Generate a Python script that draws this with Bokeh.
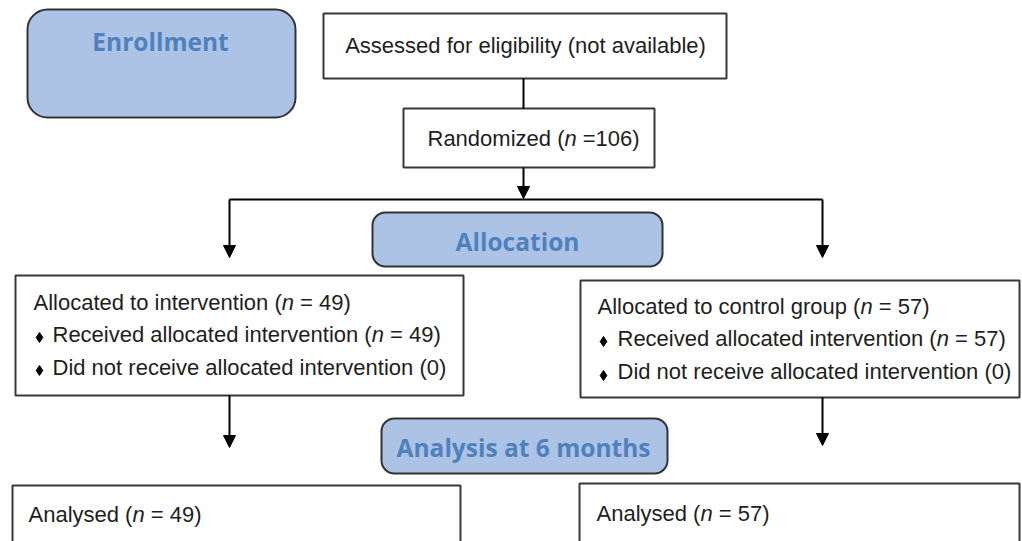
from bokeh.plotting import figure
from bokeh.models import Range1d, Arrow, NormalHead, ColumnDataSource
from bokeh.core.properties import value
from bokeh.embed import file_html
from bokeh.resources import INLINE

# ---------------- data ----------------
stage_labels = ["Enrollment", "Allocation", "Analysis at 6 months"]
assessed_label = "Assessed for eligibility (not available)"
randomized_n = 106
arm_names = ["intervention", "control group"]
arm_allocated_n = [49, 57]
arm_received_n = [49, 57]
arm_not_received_n = [0, 0]
arm_analysed_n = [49, 57]

# ---------------- styling / layout (image pixels, y downward) ----------------
BODY_FONT = "Liberation Sans"
HEAD_FONT = "Open Sans"
FS = 22
TEXT_COLOR = "#1e1e1e"
HEAD_COLOR = "#4f81bd"
STAGE_FILL = "#adc3e6"
BOX_LINE = "#383838"
NBSP = "\u00a0"

# Arial / Liberation Sans advance widths (1/1000 em)
W = {' ': 278, NBSP: 278, '(': 333, ')': 333, '=': 584, 'A': 667, 'R': 722, 'D': 722,
     'a': 556, 'b': 556, 'c': 500, 'd': 556, 'e': 556, 'f': 278, 'g': 556,
     'h': 556, 'i': 222, 'l': 222, 'm': 833, 'n': 556, 'o': 556, 'p': 556,
     'r': 333, 's': 500, 't': 278, 'u': 556, 'v': 500, 'y': 500, 'z': 500}


def tw(s):
    return sum(W.get(c, 556) for c in s) * FS / 1000.0


runs = dict(x=[], y=[], text=[], style=[])


def add_runs(x, y, segs):
    for s, italic in segs:
        runs["x"].append(x)
        runs["y"].append(y)
        runs["text"].append(s)
        runs["style"].append("italic" if italic else "normal")
        x += tw(s)


def with_n(prefix, n):
    return [(prefix + "(", False), ("n", True), (f"{NBSP}= {n})", False)]


p = figure(width=1022, height=541, x_range=Range1d(0, 1022), y_range=Range1d(541, 0),
           x_axis_type=None, y_axis_type=None, toolbar_location=None,
           output_backend="svg", min_border=0, outline_line_color=None,
           background_fill_color="white", border_fill_color="white")
p.grid.visible = False

# plain boxes
plain = dict(left=[323, 403, 15, 580, 12, 579],
             right=[726, 654, 463, 1019, 460, 1019],
             top=[13, 108, 275, 280, 485, 483],
             bottom=[78, 167, 395, 397, 580, 580])
p.quad(source=ColumnDataSource(plain), left="left", right="right", top="top", bottom="bottom",
       fill_color="white", line_color=BOX_LINE, line_width=2)

# stage (rounded) boxes
p.quad(left=[27], right=[295], top=[9], bottom=[117], fill_color=STAGE_FILL,
       line_color="#333333", line_width=2, border_radius=20)
p.quad(left=[372, 381], right=[662, 667], top=[212, 418], bottom=[266, 473],
       fill_color=STAGE_FILL, line_color="#333333", line_width=2, border_radius=13)

p.text(x=[160, 517, 523], y=[41, 241, 447], text=stage_labels,
       text_font=value(HEAD_FONT), text_font_style="bold", text_font_size="24.5px",
       text_color=HEAD_COLOR, text_align="center", text_baseline="alphabetic")

# connectors without heads
p.segment(x0=[523, 229], y0=[78, 199], x1=[523, 822], y1=[108, 199],
          line_color="black", line_width=2)

# arrows
arrows = ColumnDataSource(dict(xs=[523, 229, 822, 229, 822],
                               ys=[167, 199, 199, 395, 397],
                               xe=[523, 229, 822, 229, 822],
                               ye=[198, 257, 257, 447, 445]))
p.add_layout(Arrow(source=arrows, x_start="xs", y_start="ys", x_end="xe", y_end="ye",
                   line_color="black", line_width=2,
                   end=NormalHead(size=12, fill_color="black", line_color="black", line_width=1)))

# texts
add_runs(525 - tw(assessed_label) / 2, 45, [(assessed_label, False)])
add_runs(427, 138, [("Randomized (", False), ("n", True), (f"{NBSP}={randomized_n})", False)])

arm_x = [33, 597]
bullet_x = [39, 603]
after_bullet_x = [52, 617]
line_base = [[302, 334, 367], [306, 338, 371]]
bullet_y = [[337, 370], [341, 375]]
analysed_x = [28, 596]
analysed_base = [514, 513]
bx, by = [], []
for i in range(2):
    add_runs(arm_x[i], line_base[i][0],
             with_n(f"Allocated to {arm_names[i]} ", arm_allocated_n[i]))
    add_runs(after_bullet_x[i], line_base[i][1],
             with_n("Received allocated intervention ", arm_received_n[i]))
    add_runs(after_bullet_x[i], line_base[i][2],
             [(f"Did not receive allocated intervention ({arm_not_received_n[i]})", False)])
    bx += [bullet_x[i], bullet_x[i]]
    by += bullet_y[i]
    add_runs(analysed_x[i], analysed_base[i], with_n("Analysed ", arm_analysed_n[i]))

p.text(source=ColumnDataSource(runs), x="x", y="y", text="text",
       text_font=value(BODY_FONT), text_font_style="style", text_font_size=f"{FS}px",
       text_color=TEXT_COLOR, text_align="left", text_baseline="alphabetic")

p.scatter(x=bx, y=by, marker="diamond", size=10, fill_color="black", line_color="black")

open("out.html", "w").write(file_html(p, INLINE))
